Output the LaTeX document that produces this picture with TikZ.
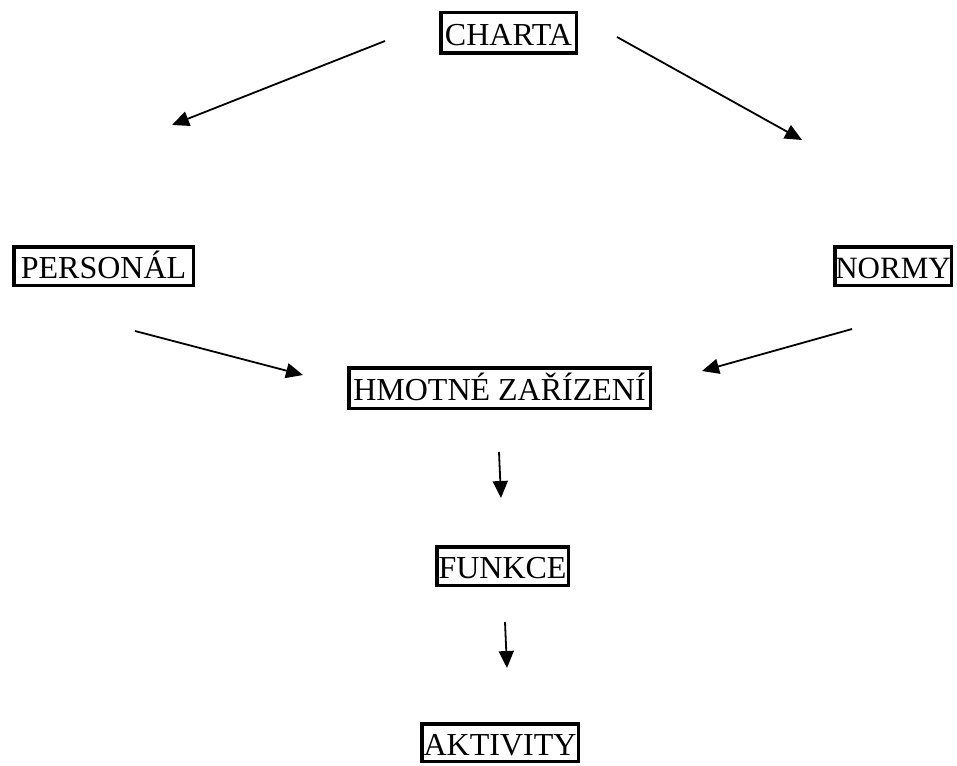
\documentclass[tikz,border=0pt]{standalone}
\usepackage{fontspec}
\setmainfont{Liberation Serif}
\usetikzlibrary{arrows.meta}
\begin{document}
\begin{tikzpicture}[x=1pt,y=-1pt,
  labelbox/.style={draw,line width=3.5pt,inner sep=0pt,text height=25pt,text depth=0pt,
    font=\fontsize{32}{38}\selectfont},
  flowarrow/.style={line width=1.8pt,-{Triangle[length=17pt,width=15pt]}}]
\useasboundingbox (0,0) rectangle (957,765);
\node[labelbox,minimum width=135.5pt,minimum height=40.5pt] (charta) at (508.5,33) {CHARTA};
\node[labelbox,minimum width=179.5pt,minimum height=38.5pt] (personal) at (103.5,266) {PERSONÁL\hspace{8pt}};
\node[labelbox,minimum width=116.5pt,minimum height=38.5pt,font=\fontsize{31}{38}\selectfont] (normy) at (893,266) {NORMY};
\node[labelbox,minimum width=301.5pt,minimum height=40.5pt] (hmotne) at (499.5,388) {HMOTNÉ ZAŘÍZENÍ};
\node[labelbox,minimum width=131.5pt,minimum height=38.5pt] (funkce) at (502.5,566) {FUNKCE};
\node[labelbox,minimum width=156.5pt,minimum height=37.5pt] (aktivity) at (500,742.5) {AKTIVITY};
\coordinate (a1s) at (385,41);
\coordinate (a1e) at (172,125);
\coordinate (a2s) at (617,37);
\coordinate (a2e) at (802,140);
\coordinate (a3s) at (135,331);
\coordinate (a3e) at (303,375);
\coordinate (a4s) at (852,329);
\coordinate (a4e) at (702,371);
\coordinate (a5s) at (499,452);
\coordinate (a5e) at (501,498);
\coordinate (a6s) at (505,622);
\coordinate (a6e) at (507,668);
\draw[flowarrow] (a1s) -- (a1e);
\draw[flowarrow] (a2s) -- (a2e);
\draw[flowarrow] (a3s) -- (a3e);
\draw[flowarrow] (a4s) -- (a4e);
\draw[flowarrow] (a5s) -- (a5e);
\draw[flowarrow] (a6s) -- (a6e);
\end{tikzpicture}
\end{document}
